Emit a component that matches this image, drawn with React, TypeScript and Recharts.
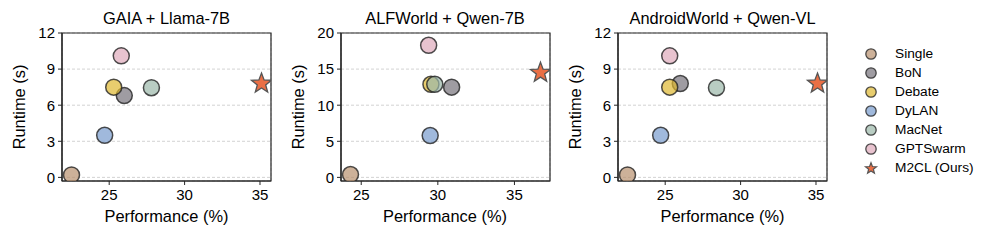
import { ScatterChart, Scatter, XAxis, YAxis, CartesianGrid, ReferenceArea } from "recharts";

const methods = ["Single", "BoN", "Debate", "DyLAN", "MacNet", "GPTSwarm"];
const methodColors = ["#b8906e", "#76727a", "#deb830", "#789bcd", "#9bb8aa", "#dea9ba"];
const oursLabel = "M2CL (Ours)";
const oursColor = "#ea6f45";

const gaiaPerf = [22.5, 26.0, 25.3, 24.7, 27.8, 25.8];
const gaiaRuntime = [0.2, 6.8, 7.5, 3.5, 7.45, 10.1];
const gaiaOurs = [35.1, 7.8];

const alfPerf = [24.3, 30.9, 29.55, 29.5, 29.8, 29.4];
const alfRuntime = [0.4, 12.5, 12.9, 5.8, 12.9, 18.3];
const alfOurs = [36.7, 14.5];

const androidPerf = [22.5, 26.0, 25.3, 24.7, 28.4, 25.3];
const androidRuntime = [0.2, 7.8, 7.5, 3.5, 7.45, 10.1];
const androidOurs = [35.1, 7.8];

const xTicks = [25, 30, 35];
const xGridA = [22.5, 25, 27.5, 30, 32.5, 35];
const xGridB = [25, 27.5, 30, 32.5, 35];
const yTicksA = [0, 3, 6, 9, 12];
const yTicksB = [0, 5, 10, 15, 20];

const FONT = "'Liberation Sans', Arial, sans-serif";
const EDGE = "#222";
const SPINE = "#262626";

const panels = [
  { title: "GAIA + Llama-7B", perf: gaiaPerf, runtime: gaiaRuntime, ours: gaiaOurs, xDomain: [21.87, 35.73], yDomain: [-0.3, 12], xGrid: xGridA, yTicks: yTicksA, left: 0 },
  { title: "ALFWorld + Qwen-7B", perf: alfPerf, runtime: alfRuntime, ours: alfOurs, xDomain: [23.68, 37.32], yDomain: [-0.5, 20], xGrid: xGridB, yTicks: yTicksB, left: 278.5 },
  { title: "AndroidWorld + Qwen-VL", perf: androidPerf, runtime: androidRuntime, ours: androidOurs, xDomain: [21.87, 35.73], yDomain: [-0.3, 12], xGrid: xGridA, yTicks: yTicksA, left: 556 },
];

const starPoints = (cx: number, cy: number, R: number) => {
  const r = R * 0.42;
  const pts: string[] = [];
  for (let i = 0; i < 10; i++) {
    const rad = i % 2 === 0 ? R : r;
    const a = -Math.PI / 2 + (i * Math.PI) / 5;
    pts.push(`${cx + rad * Math.cos(a)},${cy + rad * Math.sin(a)}`);
  }
  return pts.join(" ");
};

const circleShape = (color: string, r: number) => (props: any) => (
  <circle cx={props.cx} cy={props.cy} r={r} fill={color} fillOpacity={0.7} stroke={EDGE} strokeOpacity={0.8} strokeWidth={1.5} />
);

const starShape = (R: number) => (props: any) => (
  <polygon points={starPoints(props.cx, props.cy, R)} fill={oursColor} stroke="#555" strokeWidth={1.3} strokeLinejoin="miter" />
);

const tickStyle = { fontSize: 15, fill: "#000", fontFamily: FONT };
const labelStyle = { position: "absolute" as const, fontSize: 16.4, whiteSpace: "nowrap" as const, lineHeight: 1 };

const Panel = ({ p }: { p: (typeof panels)[number] }) => {
  const W = 62 + 209 + 10;
  const plotCenter = p.left + 62 + 104.5;
  return (
    <>
      <div style={{ position: "absolute", left: p.left, top: 0, width: W, height: 241 }}>
        <ScatterChart width={W} height={241} margin={{ top: 33, right: 10, bottom: 20, left: 0 }}>
          <CartesianGrid xAxisId="top" stroke="#c8c8c8" strokeDasharray="3 2" strokeWidth={0.8} />
          <XAxis xAxisId="top" orientation="top" type="number" dataKey="x" domain={p.xDomain} allowDataOverflow ticks={p.xGrid} height={0} tick={false} tickLine={false} axisLine={false} />
          <XAxis type="number" dataKey="x" domain={p.xDomain} allowDataOverflow ticks={xTicks} height={40} tick={tickStyle} tickSize={4} tickMargin={4} tickLine={{ stroke: SPINE }} axisLine={{ stroke: SPINE, strokeWidth: 1.2 }} />
          <YAxis type="number" dataKey="y" domain={p.yDomain} allowDataOverflow ticks={p.yTicks} width={62} tick={tickStyle} tickSize={4} tickMargin={3} tickLine={{ stroke: SPINE }} axisLine={{ stroke: SPINE, strokeWidth: 1.2 }} />
          {methods.map((m, i) => (
            <Scatter key={m} name={m} data={[{ x: p.perf[i], y: p.runtime[i] }]} shape={circleShape(methodColors[i], 8)} isAnimationActive={false} />
          ))}
          <Scatter name={oursLabel} data={[{ x: p.ours[0], y: p.ours[1] }]} shape={starShape(10.5)} isAnimationActive={false} />
          <ReferenceArea x1={p.xDomain[0]} x2={p.xDomain[1]} y1={p.yDomain[0]} y2={p.yDomain[1]} fill="none" stroke={SPINE} strokeWidth={1.2} />
        </ScatterChart>
      </div>
      <div style={{ ...labelStyle, left: plotCenter, top: 18, transform: "translate(-50%, -50%)" }}>{p.title}</div>
      <div style={{ ...labelStyle, left: plotCenter, top: 216, transform: "translate(-50%, -50%)" }}>Performance (%)</div>
      <div style={{ ...labelStyle, left: p.left + 19, top: 107, transform: "translate(-50%, -50%) rotate(-90deg)" }}>Runtime (s)</div>
    </>
  );
};

const LegendMarker = ({ i }: { i: number }) => (
  <svg width={16} height={16} style={{ position: "absolute", left: -8, top: -8 }}>
    {i < methods.length ? (
      <circle cx={8} cy={8} r={5.2} fill={methodColors[i]} fillOpacity={0.7} stroke={EDGE} strokeOpacity={0.8} strokeWidth={1.3} />
    ) : (
      <polygon points={starPoints(8, 8.5, 5.8)} fill={oursColor} stroke="#555" strokeWidth={1.2} />
    )}
  </svg>
);

export default function App() {
  const labels = [...methods, oursLabel];
  return (
    <div style={{ position: "relative", width: 991, height: 241, background: "#fff", fontFamily: FONT, color: "#000", overflow: "hidden" }}>
      <style>{"body{margin:0}"}</style>
      {panels.map((p) => (
        <Panel key={p.title} p={p} />
      ))}
      {labels.map((l, i) => (
        <div key={l} style={{ position: "absolute", left: 871, top: 53.5 + i * 19.1 }}>
          <LegendMarker i={i} />
          <div style={{ position: "absolute", left: 24, top: 0, transform: "translateY(-50%)", fontSize: 13.7, whiteSpace: "nowrap", lineHeight: 1 }}>{l}</div>
        </div>
      ))}
    </div>
  );
}
